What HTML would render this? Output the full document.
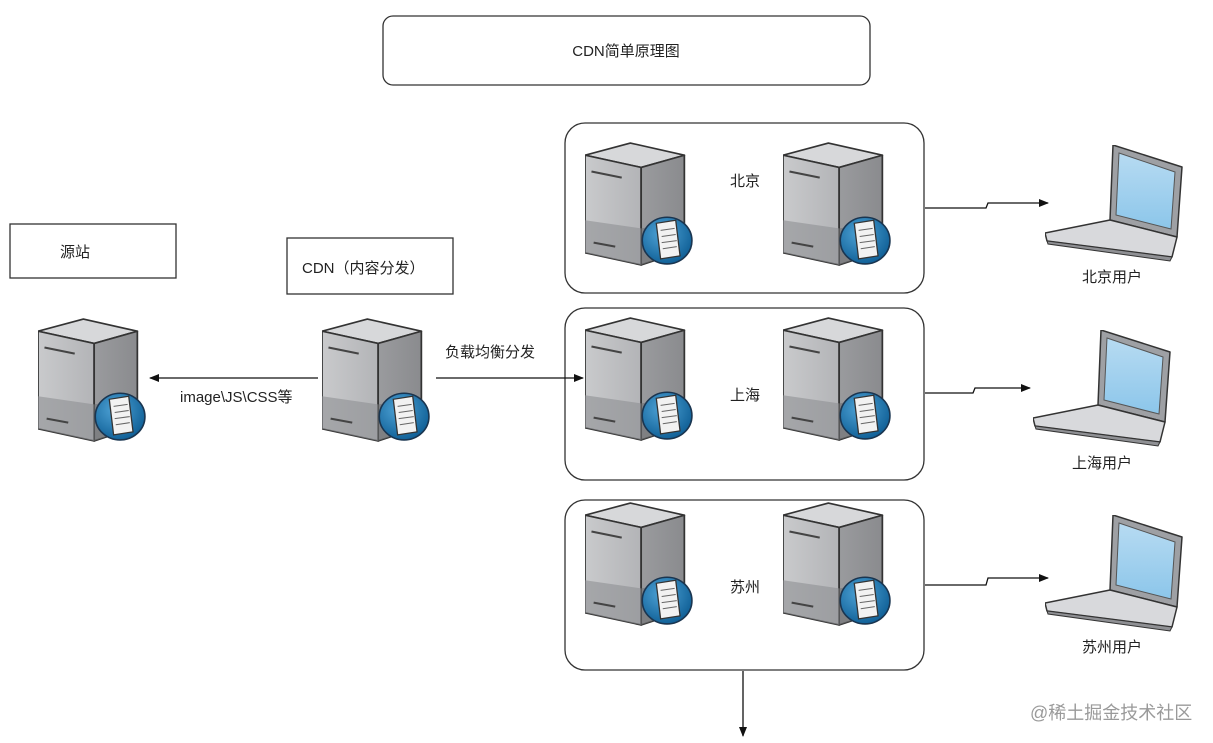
<!DOCTYPE html>
<html><head><meta charset="utf-8"><style>
html,body{margin:0;padding:0;background:#fff;}
svg{display:block;}
text{font-family:"Liberation Sans","Noto Sans CJK SC",sans-serif;fill:#222;}
</style></head><body>
<svg width="1213" height="743" viewBox="0 0 1213 743" xmlns="http://www.w3.org/2000/svg">
<defs>
<linearGradient id="fg" x1="0" y1="0" x2="1" y2="0"><stop offset="0" stop-color="#c9cacc"/><stop offset="1" stop-color="#b3b4b7"/></linearGradient>
<linearGradient id="sg" x1="0" y1="0" x2="1" y2="0"><stop offset="0" stop-color="#9a9b9e"/><stop offset="1" stop-color="#8a8b8e"/></linearGradient>
<radialGradient id="gl" cx="0.4" cy="0.35" r="0.7"><stop offset="0" stop-color="#4fa3d6"/><stop offset="1" stop-color="#0d5d94"/></radialGradient>
<linearGradient id="scr" x1="0" y1="0" x2="0" y2="1"><stop offset="0" stop-color="#b7dbf2"/><stop offset="1" stop-color="#8cc6ea"/></linearGradient>
<symbol id="srv" viewBox="0 0 100 125" preserveAspectRatio="none">
 <polygon points="0,14 42,2 92,14 52,26" fill="#d7d8da" stroke="#333" stroke-width="1.6" stroke-linejoin="round"/>
 <polygon points="0,14 52,26 52,122 0,110" fill="url(#fg)" stroke="#333" stroke-width="1.6" stroke-linejoin="round"/>
 <polygon points="52,26 92,14 92,108 52,122" fill="url(#sg)" stroke="#333" stroke-width="1.6" stroke-linejoin="round"/>
 <polygon points="0,78 52,86 52,122 0,110" fill="#8e8f92" opacity="0.6"/>
 <polygon points="52,86 92,80 92,108 52,122" fill="#6e6f72" opacity="0.6"/>
 <line x1="6" y1="30" x2="34" y2="36" stroke="#444" stroke-width="2"/>
 <line x1="8" y1="100" x2="28" y2="104" stroke="#444" stroke-width="2"/>
 <circle cx="76" cy="98" r="23" fill="url(#gl)" stroke="#1a3550" stroke-width="1.5"/>
 <polygon points="66,81 84,78 88,113 70,116" fill="#f2f2f2" stroke="#333" stroke-width="1.2"/>
 <line x1="70" y1="88" x2="83" y2="86" stroke="#666"/>
 <line x1="71" y1="94" x2="84" y2="92" stroke="#666"/>
 <line x1="71" y1="100" x2="85" y2="98" stroke="#666"/>
 <line x1="72" y1="106" x2="85" y2="104" stroke="#666"/>
</symbol>
<symbol id="lap" viewBox="0 0 140 118" width="140" height="118">
 <polygon points="68,0 137,22 132,92 65,75" fill="#9ea0a4" stroke="#333" stroke-width="1.5" stroke-linejoin="round"/>
 <polygon points="74,8 130,27 126,84 71,70" fill="url(#scr)" stroke="#555" stroke-width="1"/>
 <polygon points="0,88 65,75 132,92 127,112 2,96" fill="#d8d9dc" stroke="#333" stroke-width="1.5" stroke-linejoin="round"/>
 <polygon points="2,96 127,112 125,116 3,99" fill="#8f9094" stroke="#333" stroke-width="1"/>
</symbol>
<marker id="ah" markerWidth="10" markerHeight="10" refX="9" refY="5" orient="auto" markerUnits="userSpaceOnUse"><polygon points="0,1 10,5 0,9" fill="#111"/></marker>
</defs>

<rect x="383" y="16" width="487" height="69" rx="10" fill="#fff" stroke="#333" stroke-width="1.3"/>
<text x="626" y="56" font-size="15" text-anchor="middle">CDN简单原理图</text>

<rect x="10" y="224" width="166" height="54" fill="#fff" stroke="#333" stroke-width="1.3"/>
<text x="60" y="257" font-size="15">源站</text>
<rect x="287" y="238" width="166" height="56" fill="#fff" stroke="#333" stroke-width="1.3"/>
<text x="302" y="273" font-size="15">CDN（内容分发）</text>

<rect x="565" y="123" width="359" height="170" rx="20" fill="#fff" stroke="#333" stroke-width="1.3"/>
<rect x="565" y="308" width="359" height="172" rx="20" fill="#fff" stroke="#333" stroke-width="1.3"/>
<rect x="565" y="500" width="359" height="170" rx="20" fill="#fff" stroke="#333" stroke-width="1.3"/>

<use href="#srv" x="38" y="317" width="108" height="127"/>
<use href="#srv" x="322" y="317" width="108" height="127"/>
<use href="#srv" x="585" y="141" width="108" height="127"/>
<use href="#srv" x="783" y="141" width="108" height="127"/>
<use href="#srv" x="585" y="316" width="108" height="127"/>
<use href="#srv" x="783" y="316" width="108" height="127"/>
<use href="#srv" x="585" y="501" width="108" height="127"/>
<use href="#srv" x="783" y="501" width="108" height="127"/>

<text x="745" y="186" font-size="15" text-anchor="middle">北京</text>
<text x="745" y="400" font-size="15" text-anchor="middle">上海</text>
<text x="745" y="592" font-size="15" text-anchor="middle">苏州</text>

<line x1="318" y1="378" x2="150" y2="378" stroke="#111" stroke-width="1.3" marker-end="url(#ah)"/>
<text x="180" y="402" font-size="15">image\JS\CSS等</text>
<line x1="436" y1="378" x2="583" y2="378" stroke="#111" stroke-width="1.3" marker-end="url(#ah)"/>
<text x="445" y="357" font-size="15">负载均衡分发</text>

<polyline points="925,208 986,208 988,203 1048,203" fill="none" stroke="#111" stroke-width="1.3" marker-end="url(#ah)"/>
<polyline points="925,393 973,393 975,388 1030,388" fill="none" stroke="#111" stroke-width="1.3" marker-end="url(#ah)"/>
<polyline points="925,585 986,585 988,578 1048,578" fill="none" stroke="#111" stroke-width="1.3" marker-end="url(#ah)"/>
<line x1="743" y1="671" x2="743" y2="736" stroke="#111" stroke-width="1.3" marker-end="url(#ah)"/>

<use href="#lap" x="1045" y="145"/>
<use href="#lap" x="1033" y="330"/>
<use href="#lap" x="1045" y="515"/>
<text x="1112" y="282" font-size="15" text-anchor="middle">北京用户</text>
<text x="1102" y="468" font-size="15" text-anchor="middle">上海用户</text>
<text x="1112" y="652" font-size="15" text-anchor="middle">苏州用户</text>

<text x="1030" y="719" font-size="18" style="fill:#9a9a9a">@稀土掘金技术社区</text>
</svg>
</body></html>
